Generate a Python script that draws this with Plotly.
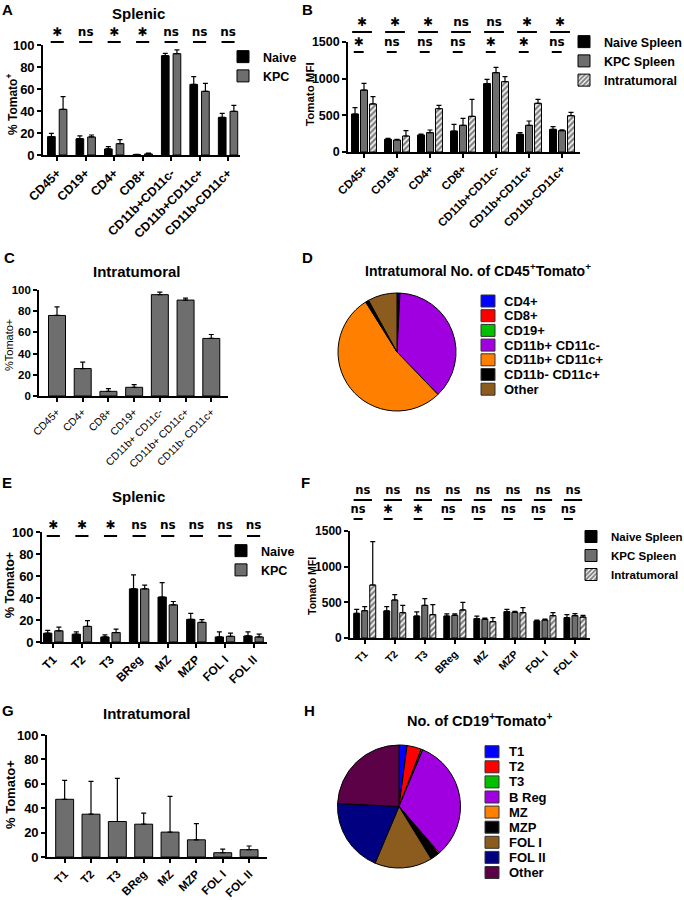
import plotly.graph_objects as go

W, H = 684, 900
FONT = "Liberation Sans, Arial, Helvetica, sans-serif"
SYM_FONT = "DejaVu Sans, sans-serif"

# ---------------- data ----------------
A_categories = ['CD45+', 'CD19+', 'CD4+', 'CD8+', 'CD11b+CD11c-', 'CD11b+CD11c+', 'CD11b-CD11c+']
A_naive = [16.7, 14.8, 5.5, 0.3, 90.3, 64.2, 34.2]
A_naive_err = [3.0, 2.5, 2.1, 0.2, 2.1, 7.0, 3.7]
A_kpc = [41.5, 16.4, 10.3, 1.0, 92.1, 57.9, 39.7]
A_kpc_err = [11.5, 1.8, 3.7, 0.8, 3.4, 7.3, 5.5]
A_sig = ['*', 'ns', '*', '*', 'ns', 'ns', 'ns']

B_categories = ['CD45+', 'CD19+', 'CD4+', 'CD8+', 'CD11b+CD11c-', 'CD11b+CD11c+', 'CD11b-CD11c+']
B_naive = [518, 173, 232, 286, 932, 241, 309]
B_naive_err = [86, 12, 13, 91, 59, 23, 36]
B_kpc = [845, 164, 264, 364, 1082, 364, 291]
B_kpc_err = [92, 10, 36, 95, 73, 59, 12]
B_intra = [655, 218, 591, 486, 959, 664, 495]
B_intra_err = [100, 73, 45, 232, 68, 54, 46]
B_sig_all = ['*', '*', '*', 'ns', 'ns', '*', '*']
B_sig_nk = ['*', 'ns', 'ns', 'ns', '*', '*', 'ns']

C_categories = ['CD45+', 'CD4+', 'CD8+', 'CD19+', 'CD11b+ CD11c-', 'CD11b+ CD11c+', 'CD11b- CD11c+']
C_values = [76.0, 25.9, 4.4, 8.2, 95.6, 90.5, 54.3]
C_err = [8.0, 6.0, 2.5, 2.5, 2.4, 1.9, 3.7]

D_labels = ['CD4+', 'CD8+', 'CD19+', 'CD11b+ CD11c-', 'CD11b+ CD11c+', 'CD11b- CD11c+', 'Other']
D_values = [0.6, 0.1, 0.1, 37.0, 53.3, 0.9, 8.0]
D_colors = ['#0000FF', '#FF0000', '#00C000', '#A000E0', '#FF8000', '#000000', '#8C5B1E']

E_categories = ['T1', 'T2', 'T3', 'BReg', 'MZ', 'MZP', 'FOL I', 'FOL II']
E_naive = [8.0, 7.1, 4.6, 48.3, 40.9, 20.6, 4.6, 5.5]
E_naive_err = [2.5, 2.1, 1.9, 12.7, 13.1, 5.4, 4.6, 3.7]
E_kpc = [10.2, 14.2, 8.6, 48.3, 33.8, 17.9, 5.2, 4.6]
E_kpc_err = [3.3, 5.2, 3.1, 3.4, 3.0, 2.4, 2.8, 2.5]
E_sig = ['*', '*', '*', 'ns', 'ns', 'ns', 'ns', 'ns']

F_categories = ['T1', 'T2', 'T3', 'BReg', 'MZ', 'MZP', 'FOL I', 'FOL II']
F_naive = [346, 379, 308, 308, 271, 369, 238, 285]
F_naive_err = [56, 60, 57, 29, 37, 33, 14, 42]
F_kpc = [383, 533, 458, 318, 262, 360, 252, 313]
F_kpc_err = [56, 74, 93, 19, 18, 14, 14, 28]
F_intra = [743, 355, 327, 393, 229, 355, 313, 294]
F_intra_err = [607, 103, 140, 107, 56, 70, 42, 24]
F_sig_all = ['ns', 'ns', 'ns', 'ns', 'ns', 'ns', 'ns', 'ns']
F_sig_nk = ['ns', '*', '*', 'ns', 'ns', 'ns', 'ns', 'ns']

G_categories = ['T1', 'T2', 'T3', 'BReg', 'MZ', 'MZP', 'FOL I', 'FOL II']
G_values = [47.3, 35.1, 29.1, 26.9, 20.4, 14.1, 3.5, 6.0]
G_err = [15.5, 26.9, 35.3, 9.0, 29.3, 13.3, 3.0, 3.0]

H_labels = ['T1', 'T2', 'T3', 'B Reg', 'MZ', 'MZP', 'FOL I', 'FOL II', 'Other']
H_values = [2.1, 3.8, 0.4, 32.3, 0.3, 2.3, 15.1, 19.4, 24.2]
H_colors = ['#0000FF', '#FF0000', '#00C000', '#A000E0', '#FF8000', '#000000', '#8C5B1E', '#000080', '#5C0048']

# ---------------- styles ----------------
BLACK = '#000000'
GRAY = '#6E6E6E'


def xdom(a, b):
    return [a / W, b / W]


def ydom(top, bottom):
    return [1 - bottom / H, 1 - top / H]


def fnt(size, bold=True, family=FONT):
    return dict(family=family, size=size, color='black', weight='bold' if bold else 'normal')


def main_x(dom, rng, anchor, size, bold=True):
    return dict(domain=dom, range=rng, anchor=anchor, type='category', showline=True,
                linecolor='black', linewidth=1.6, ticks='outside', ticklen=4, tickwidth=1.5,
                tickcolor='black', tickangle=-45, showgrid=False, zeroline=False,
                tickfont=fnt(size, bold), fixedrange=True)


def main_y(dom, rng, anchor, tickvals, size, bold=True):
    return dict(domain=dom, range=rng, anchor=anchor, tickvals=tickvals, showline=True,
                linecolor='black', linewidth=1.6, ticks='outside', ticklen=4, tickwidth=1.5,
                tickcolor='black', showgrid=False, zeroline=False, tickfont=fnt(size, bold),
                fixedrange=True)


def strip_axes(xd, xr, yd, yr, xa_name, ya_name):
    return (dict(domain=xd, range=xr, anchor=ya_name, visible=False, fixedrange=True),
            dict(domain=yd, range=yr, anchor=xa_name, visible=False, fixedrange=True))


fig = go.Figure()


def add_bars(x, y, err, name, xa, ya, offset, width, color, legend=None, pattern=None):
    marker = dict(color=color, line=dict(color='black', width=1))
    if pattern:
        marker['pattern'] = dict(shape='/', fgcolor='black', bgcolor='white', size=4, solidity=0.6)
    fig.add_trace(go.Bar(
        x=x, y=y, name=name, xaxis=xa, yaxis=ya, offset=offset, width=width,
        marker=marker,
        error_y=dict(type='data', array=err, arrayminus=[0] * len(err), symmetric=False,
                     color='black', thickness=1.2, width=2.5),
        showlegend=legend is not None, legend=legend if legend else 'legend',
    ))


def add_sig(sig, xa, ya, text_row, line_row, x0, x1, tsize=12):
    n = len(sig)
    xs, ys = [], []
    for i in range(n):
        xs += [i + x0, i + x1, None]
        ys += [line_row, line_row, None]
    fig.add_trace(go.Scatter(x=xs, y=ys, mode='lines', line=dict(color='black', width=2),
                             xaxis=xa, yaxis=ya, showlegend=False, hoverinfo='skip'))
    txt = ['✱' if s == '*' else s for s in sig]
    fig.add_trace(go.Scatter(x=[i + (x0 + x1) / 2 for i in range(n)], y=[text_row] * n,
                             mode='text', text=txt, textposition='middle center',
                             textfont=dict(family=SYM_FONT, size=tsize, color='black', weight='bold'),
                             xaxis=xa, yaxis=ya, showlegend=False, hoverinfo='skip'))


layout = {}

# ---- Panel A ----
A_xr = [-0.5, 6.42]
layout['xaxis'] = main_x(xdom(43, 240), A_xr, 'y', 12.5)
layout['yaxis'] = main_y(ydom(45, 155), [0, 100], 'x', [0, 20, 40, 60, 80, 100], 13)
layout['xaxis2'], layout['yaxis2'] = strip_axes(xdom(43, 240), A_xr, ydom(18, 47), [47, 18], 'x2', 'y2')
add_bars(A_categories, A_naive, A_naive_err, 'Naive', 'x', 'y', -0.34, 0.27, BLACK, 'legend')
add_bars(A_categories, A_kpc, A_kpc_err, 'KPC', 'x', 'y', 0.07, 0.27, GRAY, 'legend')
add_sig(A_sig, 'x2', 'y2', 33, 42, -0.23, 0.23)

# ---- Panel B ----
B_xr = [-0.485, 6.545]
layout['xaxis3'] = main_x(xdom(348, 580), B_xr, 'y3', 11.5)
layout['yaxis3'] = main_y(ydom(42, 152), [0, 1500], 'x3', [0, 500, 1000, 1500], 12.5)
layout['xaxis4'], layout['yaxis4'] = strip_axes(xdom(348, 580), B_xr, ydom(12, 58), [58, 12], 'x4', 'y4')
add_bars(B_categories, B_naive, B_naive_err, 'Naive Spleen', 'x3', 'y3', -0.378, 0.212, BLACK, 'legend2')
add_bars(B_categories, B_kpc, B_kpc_err, 'KPC Spleen', 'x3', 'y3', -0.106, 0.212, GRAY, 'legend2')
add_bars(B_categories, B_intra, B_intra_err, 'Intratumoral', 'x3', 'y3', 0.166, 0.212, 'white', 'legend2', pattern=True)
add_sig(B_sig_all, 'x4', 'y4', 23, 32, -0.36, 0.24)
add_sig(B_sig_nk, 'x4', 'y4', 43, 52, -0.31, -0.01)

# ---- Panel C ----
layout['xaxis5'] = main_x(xdom(39, 228), [-0.7, 6.65], 'y5', 10.5, bold=False)
layout['yaxis5'] = main_y(ydom(290, 396), [0, 100], 'x5', [0, 20, 40, 60, 80, 100], 11.5)
add_bars(C_categories, C_values, C_err, 'Intratumoral', 'x5', 'y5', -0.33, 0.66, GRAY)

# ---- Panel D (pie) ----
fig.add_trace(go.Pie(labels=D_labels, values=D_values, sort=False, direction='clockwise',
                     rotation=0, textinfo='none', hoverinfo='label+value',
                     marker=dict(colors=D_colors, line=dict(color='black', width=1)),
                     domain=dict(x=xdom(338, 456), y=ydom(293, 411)), showlegend=False))

# ---- Panel E ----
E_xr = [-0.395, 7.47]
layout['xaxis6'] = main_x(xdom(42, 267), E_xr, 'y6', 12)
layout['yaxis6'] = main_y(ydom(532, 642), [0, 100], 'x6', [0, 20, 40, 60, 80, 100], 13)
layout['xaxis7'], layout['yaxis7'] = strip_axes(xdom(42, 267), E_xr, ydom(514, 542), [542, 514], 'x7', 'y7')
add_bars(E_categories, E_naive, E_naive_err, 'Naive', 'x6', 'y6', -0.34, 0.29, BLACK, 'legend3')
add_bars(E_categories, E_kpc, E_kpc_err, 'KPC', 'x6', 'y6', 0.05, 0.29, GRAY, 'legend3')
add_sig(E_sig, 'x7', 'y7', 526, 536, -0.23, 0.23)

# ---- Panel F ----
F_xr = [-0.49, 7.5]
layout['xaxis8'] = main_x(xdom(350, 590), F_xr, 'y8', 10.5)
layout['yaxis8'] = main_y(ydom(531, 638), [0, 1500], 'x8', [0, 500, 1000, 1500], 12)
layout['xaxis9'], layout['yaxis9'] = strip_axes(xdom(350, 590), F_xr, ydom(480, 526), [526, 480], 'x9', 'y9')
add_bars(F_categories, F_naive, F_naive_err, 'Naive Spleen', 'x8', 'y8', -0.367, 0.2, BLACK, 'legend4')
add_bars(F_categories, F_kpc, F_kpc_err, 'KPC Spleen', 'x8', 'y8', -0.1, 0.2, GRAY, 'legend4')
add_bars(F_categories, F_intra, F_intra_err, 'Intratumoral', 'x8', 'y8', 0.167, 0.2, 'white', 'legend4', pattern=True)
add_sig(F_sig_all, 'x9', 'y9', 491, 500, -0.37, 0.24, tsize=11.5)
add_sig(F_sig_nk, 'x9', 'y9', 510, 519, -0.37, -0.07, tsize=11.5)

# ---- Panel G ----
layout['xaxis10'] = main_x(xdom(47, 267), [-0.67, 7.68], 'y10', 11.5)
layout['yaxis10'] = main_y(ydom(735, 857), [0, 100], 'x10', [0, 20, 40, 60, 80, 100], 13)
add_bars(G_categories, G_values, G_err, 'Intratumoral', 'x10', 'y10', -0.34, 0.68, GRAY)

# ---- Panel H (pie) ----
fig.add_trace(go.Pie(labels=H_labels, values=H_values, sort=False, direction='clockwise',
                     rotation=0, textinfo='none', hoverinfo='label+value',
                     marker=dict(colors=H_colors, line=dict(color='black', width=1)),
                     domain=dict(x=xdom(337.5, 460.5), y=ydom(745, 868)), showlegend=False))

# ---------------- annotations / legends ----------------
ann = []
shapes = []


def text_at(x, y, txt, size, bold=True, angle=0, xanchor='center'):
    ann.append(dict(x=x / W, y=1 - y / H, xref='paper', yref='paper', text=txt, showarrow=False,
                    font=fnt(size, bold), textangle=angle, xanchor=xanchor, yanchor='middle'))


# panel letters
for letter, (lx, ly) in {'A': (7, 9), 'B': (307, 9), 'C': (9, 258), 'D': (307, 258),
                         'E': (7, 483), 'F': (305, 483), 'G': (8, 710), 'H': (309, 710)}.items():
    text_at(lx, ly, letter, 15)

# titles
text_at(138, 14, 'Splenic', 15)
text_at(137, 271, 'Intratumoral', 15)
text_at(478, 270, 'Intratumoral No. of CD45<sup>+</sup>Tomato<sup>+</sup>', 14)
text_at(138, 497, 'Splenic', 15)
text_at(147, 713, 'Intratumoral', 15)
text_at(479, 720, 'No. of CD19<sup>+</sup>Tomato<sup>+</sup>', 14.5)

# y-axis titles
text_at(12, 105, '% Tomato<sup>+</sup>', 12, angle=-90)
text_at(310, 94, 'Tomato MFI', 11.5, angle=-90)
text_at(9, 345, '%Tomato+', 11, bold=False, angle=-90)
text_at(10, 585, '% Tomato+', 12.5, angle=-90)
text_at(312, 586, 'Tomato MFI', 10.5, angle=-90)
text_at(10, 795, '% Tomato+', 13, angle=-90)


def manual_legend(labels, colors, box_l, box_r, text_x, y0, step, size):
    for i, (lab, col) in enumerate(zip(labels, colors)):
        yc = y0 + i * step
        shapes.append(dict(type='rect', xref='paper', yref='paper',
                           x0=box_l / W, x1=box_r / W, y0=1 - (yc + 6) / H, y1=1 - (yc - 6) / H,
                           fillcolor=col, line=dict(color='#333333', width=1)))
        text_at(text_x, yc, lab, size, xanchor='left')


manual_legend(D_labels, D_colors, 481, 495, 502, 301, 14.7, 13)
manual_legend(H_labels, H_colors, 485, 499, 507, 751.7, 15.1, 13)


def leg(x, y, size=12.5):
    return dict(x=x / W, y=1 - y / H, xanchor='left', yanchor='top', bgcolor='rgba(0,0,0,0)',
                font=fnt(size), itemwidth=30, tracegroupgap=0, traceorder='normal')


layout['legend'] = leg(223, 42)
layout['legend2'] = leg(564, 27)
layout['legend3'] = leg(221, 536)
layout['legend4'] = leg(571, 522, 11.5)

fig.update_layout(
    width=W, height=H, margin=dict(l=0, r=0, t=0, b=0, autoexpand=False),
    paper_bgcolor='white', plot_bgcolor='white', barmode='overlay',
    font=dict(family=FONT, color='black'),
    annotations=ann, shapes=shapes, **layout,
)

fig.write_html("out.html", config={'displayModeBar': False},
               post_script="document.body.style.margin='0';document.body.style.overflow='hidden';")
